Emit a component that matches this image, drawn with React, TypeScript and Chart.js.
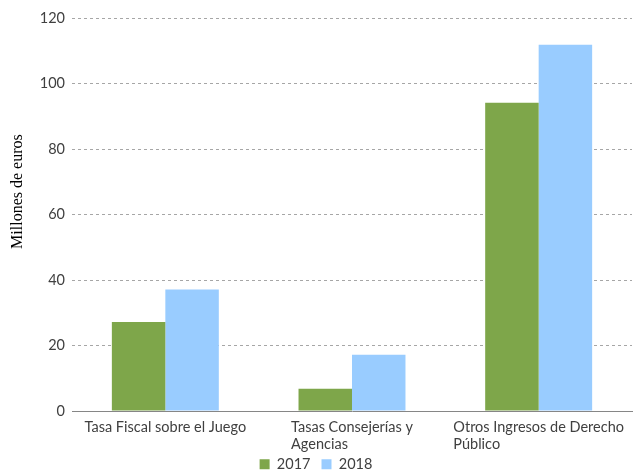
import React, { useEffect, useRef } from "react";
import { Chart, registerables } from "chart.js";

Chart.register(...registerables);

const categories: string[][] = [
  ["Tasa Fiscal sobre el Juego"],
  ["Tasas Consejerías y", "Agencias"],
  ["Otros Ingresos de Derecho", "Público"],
];
const seriesNames = ["2017", "2018"];
const values2017 = [27.2, 6.8, 94.1];
const values2018 = [37.1, 17.2, 111.8];
const colors = ["#7ea64a", "#99ccff"];
const yTicksMax = 120;
const yStep = 20;
const yTitle = "Millones de euros";

const FONT = "Lato, 'Open Sans', sans-serif";
const FONT_SIZE = 14.5;
const TEXT_COLOR = "#404040";

const customTextPlugin = {
  id: "customText",
  beforeLayout(chart: any) {
    const lg = chart.legend;
    if (lg && !lg._patched) {
      const orig = lg.fit.bind(lg);
      lg.fit = function () {
        orig();
        this.height = 26;
      };
      lg._patched = true;
    }
  },
  afterDraw(chart: any) {
    const scale = chart.scales.x;
    const yScale = chart.scales.y;
    const ctx = chart.ctx;
    ctx.save();
    ctx.font = `${FONT_SIZE}px ${FONT}`;
    ctx.fillStyle = TEXT_COLOR;
    ctx.textAlign = "left";
    ctx.textBaseline = "middle";
    const lineH = 17;
    categories.forEach((lines, i) => {
      const px = scale.getPixelForTick(i);
      const maxW = Math.max(...lines.map((l) => ctx.measureText(l).width));
      const left = px - maxW / 2;
      lines.forEach((l, j) => {
        ctx.fillText(l, left, scale.top + 16 + j * lineH);
      });
    });
    ctx.restore();

    // y axis title
    ctx.save();
    ctx.font = "16px 'Liberation Serif', serif";
    ctx.fillStyle = "#000000";
    ctx.textAlign = "center";
    ctx.textBaseline = "middle";
    const cy = yScale.getPixelForValue(67);
    ctx.translate(18, cy);
    ctx.rotate(-Math.PI / 2);
    ctx.fillText(yTitle, 0, 0);
    ctx.restore();
  },
};

export default function App() {
  const ref = useRef<HTMLCanvasElement>(null);
  useEffect(() => {
    if (!ref.current) return;
    const chart = new Chart(ref.current, {
      type: "bar",
      data: {
        labels: categories,
        datasets: [
          {
            label: seriesNames[0],
            data: values2017,
            backgroundColor: colors[0],
            barPercentage: 1,
            categoryPercentage: 0.573,
          },
          {
            label: seriesNames[1],
            data: values2018,
            backgroundColor: colors[1],
            barPercentage: 1,
            categoryPercentage: 0.573,
          },
        ],
      },
      options: {
        animation: false,
        responsive: false,
        maintainAspectRatio: false,
        layout: { padding: { left: 0, right: 3, top: 18, bottom: 0 } },
        plugins: {
          tooltip: { enabled: false },
          legend: {
            position: "bottom",
            labels: {
              boxWidth: 10,
              boxHeight: 10,
              padding: 11,
              color: TEXT_COLOR,
              font: { family: FONT, size: FONT_SIZE },
            },
          },
        },
        scales: {
          x: {
            grid: { display: true, drawOnChartArea: false, drawTicks: false },
            border: { display: true, color: "#868686", width: 1 },
            ticks: {
              color: "rgba(0,0,0,0)",
              font: { family: FONT, size: FONT_SIZE },
              padding: 7,
            },
            afterFit(scale: any) {
              scale.height = 35;
            },
          },
          y: {
            min: 0,
            max: yTicksMax,
            ticks: {
              stepSize: yStep,
              color: TEXT_COLOR,
              font: { family: FONT, size: FONT_SIZE },
              padding: 7,
            },
            grid: { color: "#a6a6a6", drawTicks: false, lineWidth: 1 },
            border: { display: false, dash: [3, 3] },
            title: { display: false },
            afterFit(scale: any) {
              scale.width = 72;
            },
          },
        },
      },
      plugins: [customTextPlugin],
    });
    return () => chart.destroy();
  }, []);
  return (
    <div style={{ position: "fixed", left: 0, top: 0, width: 635, height: 472, background: "#fff" }}>
      <canvas ref={ref} width={635} height={472} style={{ width: 635, height: 472 }} />
    </div>
  );
}
